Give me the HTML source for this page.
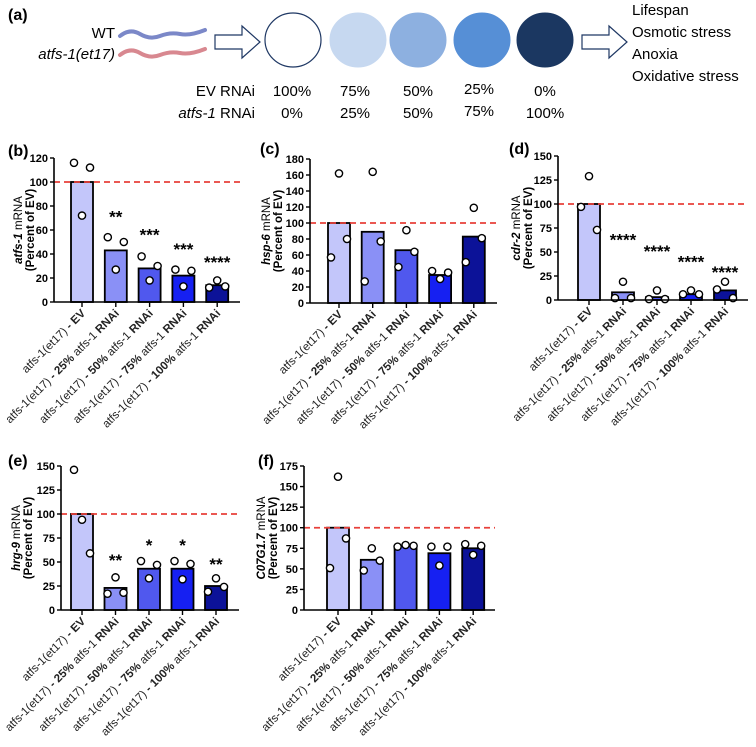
<!DOCTYPE html>
<html><head><meta charset="utf-8"><style>
html,body{margin:0;padding:0;background:#fff}
svg{display:block;font-family:"Liberation Sans",Arial,sans-serif}
</style></head><body>
<svg id="fig" width="756" height="747" viewBox="0 0 756 747" xmlns="http://www.w3.org/2000/svg">
<g>
<text x="8" y="20" font-size="16" font-weight="bold">(a)</text>
<text x="115" y="38" font-size="15" text-anchor="end">WT</text>
<text x="115" y="59" font-size="15" text-anchor="end" font-style="italic">atfs-1(et17)</text>
<path d="M120 36 q10 -8 20 -2 t20 2 t20 -2 t25 -4" stroke="#7b88c8" stroke-width="4" fill="none" stroke-linecap="round"/>
<path d="M120 55 q10 -8 20 -2 t20 2 t20 -2 t25 -4" stroke="#d88890" stroke-width="4" fill="none" stroke-linecap="round"/>
<path d="M215 35 h27 v-9 l18 16 l-18 16 v-9 h-27 z" fill="#fff" stroke="#1f3864" stroke-width="1.2"/>
<ellipse cx="293" cy="40" rx="28" ry="27" fill="#ffffff" stroke="#1f3864" stroke-width="1.2"/>
<ellipse cx="358" cy="40" rx="28" ry="27" fill="#c6d8f0" stroke="#c6d8f0"/>
<ellipse cx="418" cy="40" rx="28" ry="27" fill="#8db0e0" stroke="#8db0e0"/>
<ellipse cx="482" cy="40" rx="28" ry="27" fill="#568fd6" stroke="#568fd6"/>
<ellipse cx="545" cy="40" rx="28" ry="27" fill="#1b3761" stroke="#1b3761"/>
<path d="M582 35 h27 v-9 l18 16 l-18 16 v-9 h-27 z" fill="#fff" stroke="#1f3864" stroke-width="1.2"/>
<g font-size="15">
<text x="632" y="15">Lifespan</text><text x="632" y="37">Osmotic stress</text><text x="632" y="59">Anoxia</text><text x="632" y="81">Oxidative stress</text>
</g>
<g font-size="15" text-anchor="middle">
<text x="255" y="96" text-anchor="end">EV RNAi</text>
<text x="255" y="118" text-anchor="end"><tspan font-style="italic">atfs-1</tspan> RNAi</text>
<text x="292" y="96">100%</text><text x="292" y="118">0%</text>
<text x="355" y="96">75%</text><text x="355" y="118">25%</text>
<text x="418" y="96">50%</text><text x="418" y="118">50%</text>
<text x="479" y="94">25%</text><text x="479" y="116">75%</text>
<text x="545" y="96">0%</text><text x="545" y="118">100%</text>
</g>
</g>
</svg>
<script>
const categories = ["EV","25%","50%","75%","100%"];
const colors = ["#c3c6fa","#8a90f6","#5058ee","#1620f2","#0c1298"];
// panel b atfs-1
const bBars = [100,43,28,22,14];
const bPts = [[116,72,112],[54,27,50],[38,18,30],[27,13,26],[12,18,13]];
const bStars = ["","**","***","***","****"];
const bStarY = [0,73,58,46,35];
const bTicks = [0,20,40,60,80,100,120];
// panel c hsp-6
const cBars = [100,89,66,35,83];
const cPts = [[57,162,80],[27,164,77],[45,91,64],[40,30,38],[51,119,81]];
const cTicks = [0,20,40,60,80,100,120,140,160,180];
// panel d cdr-2
const dBars = [100,8,3,6,10];
const dPts = [[97,129,73],[2,19,2],[1,10,1],[6,10,6],[11,19,2]];
const dStars = ["","****","****","****","****"];
const dStarY = [0,65,53,42,31];
const dTicks = [0,25,50,75,100,125,150];
// panel e hrg-9
const eBars = [100,23,43,43,25];
const ePts = [[146,94,59],[17,34,18],[51,33,47],[51,32,48],[19,33,24]];
const eStars = ["","**","*","*","**"];
const eStarY = [0,54,70,70,50];
const eTicks = [0,25,50,75,100,125,150];
// panel f C07G1.7
const fBars = [100,61,78,69,75];
const fPts = [[51,162,87],[48,75,60],[77,79,78],[77,54,77],[80,67,78]];
const fTicks = [0,25,50,75,100,125,150,175];

const NS="http://www.w3.org/2000/svg";
const svg=document.getElementById('fig');
function mk(tag,attrs,parent){const e=document.createElementNS(NS,tag);for(const k in attrs)e.setAttribute(k,attrs[k]);(parent||svg).appendChild(e);return e;}

function panel(o){
  const g=mk('g',{});
  
  
  const yMax=o.ticks[o.ticks.length-1];
  const yS=v=>o.y0-(o.y0-o.yTop)*v/yMax;
  const xS=i=>o.xs0+i*o.step;
  const lab=mk('text',{x:o.lx,y:o.ly,'font-size':16,'font-weight':'bold'},g);lab.textContent='('+o.id+')';
  
  
  o.bars.forEach((v,i)=>{
    const r=mk('rect',{x:xS(i)-11,y:yS(v),width:22,height:o.y0-yS(v),fill:colors[i],stroke:'#000','stroke-width':1.8},g);
    
    
  });
  const rl=mk('line',{x1:o.x0,x2:o.xEnd,y1:yS(100),y2:yS(100),stroke:'#e8403a','stroke-width':1.8,'stroke-dasharray':'6,4'},g);
  
  
  o.pts.forEach((arr,i)=>arr.forEach((v,j)=>{
    const c=mk('circle',{cx:xS(i)+(j-1)*8,cy:yS(v),r:3.6,fill:'#fff',stroke:'#000','stroke-width':1.4},g);
    
    
  }));
  const ya=mk('line',{x1:o.x0,x2:o.x0,y1:yS(yMax),y2:o.y0,stroke:'#000','stroke-width':1.6},g);
  
  
  const xa=mk('line',{x1:o.x0,x2:o.xEnd,y1:o.y0,y2:o.y0,stroke:'#000','stroke-width':1.6},g);
  
  
  o.ticks.forEach(t=>{
    mk('line',{x1:o.x0-4,x2:o.x0,y1:yS(t),y2:yS(t),stroke:'#000','stroke-width':1.4},g);
    const tl=mk('text',{x:o.x0-6,y:yS(t)+4,'font-size':11,'font-weight':'bold','text-anchor':'end'},g);
    tl.textContent=t;
    
    
  });
  categories.forEach((c,i)=>{
    mk('line',{x1:xS(i),x2:xS(i),y1:o.y0,y2:o.y0+5,stroke:'#000','stroke-width':1.4},g);
    const x=xS(i)+4,y=o.y0+12;
    const t=mk('text',{x:x,y:y,'font-size':11.5,'text-anchor':'end',fill:'#222',transform:'rotate(-45 '+x+' '+y+')'},g);
    
    
    if(i===0){t.innerHTML='atfs-1(et17)<tspan font-weight="bold"> - EV</tspan>';}
    else{t.innerHTML='atfs-1(et17)<tspan font-weight="bold"> - '+c+'</tspan> atfs-1 <tspan font-weight="bold">RNAi</tspan>';}
  });
  if(o.stars){o.stars.forEach((s,i)=>{if(!s)return;
    const st=mk('text',{x:xS(i),y:yS(o.starY[i])+8,'font-size':17,'font-weight':'bold','text-anchor':'middle'},g);
    st.textContent=s;
    
    
  });}
  const cy=(o.y0+yS(yMax))/2;
  const t1=mk('text',{x:o.tx,y:cy,'font-size':11.5,'text-anchor':'middle',transform:'rotate(-90 '+o.tx+' '+cy+')'},g);
  t1.innerHTML='<tspan font-style="italic" font-weight="bold">'+o.gene+'</tspan> mRNA';
  
  
  const t2=mk('text',{x:o.tx+12,y:cy,'font-size':11.5,'font-weight':'bold','text-anchor':'middle',transform:'rotate(-90 '+(o.tx+12)+' '+cy+')'},g);
  t2.textContent='(Percent of EV)';
  
  
}
panel({id:'b',gene:'atfs-1',bars:bBars,pts:bPts,stars:bStars,starY:bStarY,ticks:bTicks,x0:54,xEnd:240,y0:302,yTop:158,xs0:82,step:33.8,lx:8,ly:156,tx:22});
panel({id:'c',gene:'hsp-6',bars:cBars,pts:cPts,ticks:cTicks,x0:310,xEnd:497,y0:303,yTop:159,xs0:339,step:33.7,lx:260,ly:154,tx:270});
panel({id:'d',gene:'cdr-2',bars:dBars,pts:dPts,stars:dStars,starY:dStarY,ticks:dTicks,x0:558,xEnd:748,y0:300,yTop:156,xs0:589,step:34,lx:509,ly:154,tx:520});
panel({id:'e',gene:'hrg-9',bars:eBars,pts:ePts,stars:eStars,starY:eStarY,ticks:eTicks,x0:61,xEnd:239,y0:610,yTop:466,xs0:82,step:33.5,lx:8,ly:466,tx:20});
panel({id:'f',gene:'C07G1.7',bars:fBars,pts:fPts,ticks:fTicks,x0:304,xEnd:495,y0:610,yTop:466,xs0:338,step:33.8,lx:258,ly:466,tx:265});
</script>
</body></html>
